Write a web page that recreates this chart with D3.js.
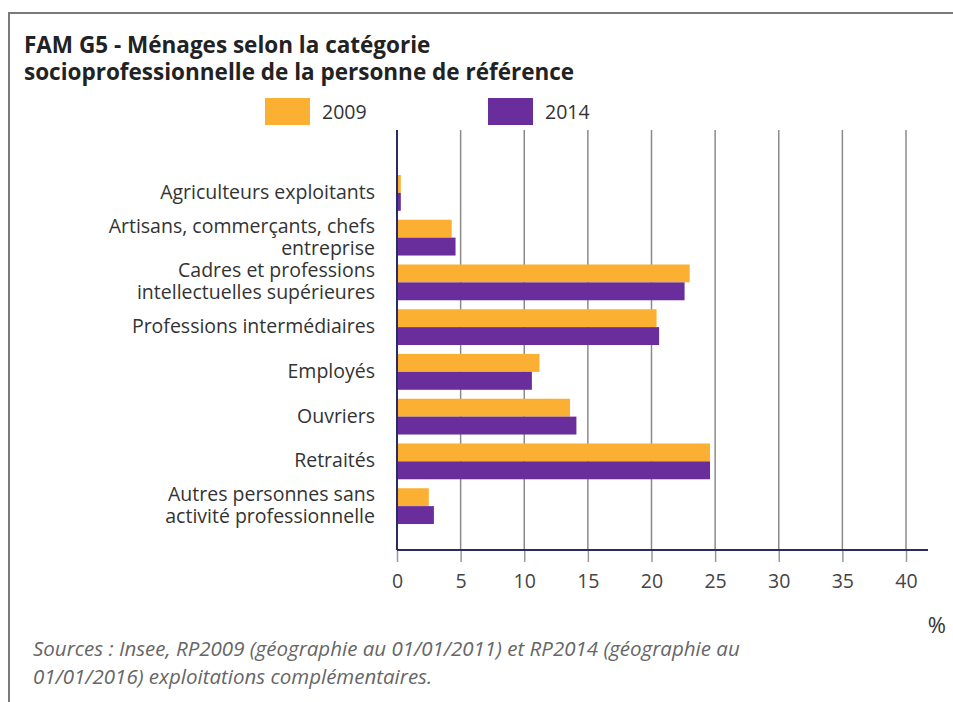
<!DOCTYPE html>
<html>
<head>
<meta charset="utf-8">
<script src="https://cdn.jsdelivr.net/npm/d3@7"></script>
<style>
  body { margin: 0; background: #fff; }
  svg text { font-family: "Open Sans", sans-serif; }
</style>
</head>
<body>
<svg id="chart" width="953" height="702"></svg>
<script>
// categories (label lines) and values in %
let categories = [
    ["Agriculteurs exploitants"],
    ["Artisans, commerçants, chefs", "entreprise"],
    ["Cadres et professions", "intellectuelles supérieures"],
    ["Professions intermédiaires"],
    ["Employés"],
    ["Ouvriers"],
    ["Retraités"],
    ["Autres personnes sans", "activité professionnelle"]
];
let series = ["2009", "2014"];
let values2009 = [0.3, 4.3, 23.0, 20.4, 11.2, 13.6, 24.6, 2.5];
let values2014 = [0.3, 4.6, 22.6, 20.6, 10.6, 14.1, 24.6, 2.9];
let xTicks = [0, 5, 10, 15, 20, 25, 30, 35, 40];
let colors = {"2009": "#fbb034", "2014": "#6a2e9c"};

let svg = d3.select("#chart");

// frame
svg.append("path")
    .attr("d", "M9,702 V13 H953")
    .attr("fill", "none")
    .attr("stroke", "#7a7a7a")
    .attr("stroke-width", 2);

// title
let title = svg.append("text")
    .attr("x", 24)
    .attr("y", 53)
    .attr("font-size", 22.5)
    .attr("font-weight", 700)
    .attr("fill", "#222");
title.append("tspan").attr("x", 24).text("FAM G5 - Ménages selon la catégorie");
title.append("tspan").attr("x", 24).attr("dy", 27).text("socioprofessionnelle de la personne de référence");

// legend
let legendX = {"2009": 265, "2014": 488};
series.forEach(s => {
    svg.append("rect")
        .attr("x", legendX[s]).attr("y", 98)
        .attr("width", 45).attr("height", 27)
        .attr("fill", colors[s]);
    svg.append("text")
        .attr("x", legendX[s] + 57).attr("y", 119)
        .attr("font-size", 19.5).attr("fill", "#333")
        .text(s);
});

// scales
let x = d3.scaleLinear().domain([0, 40]).range([397, 906]);
let y = d3.scaleBand()
    .domain(d3.range(categories.length))
    .range([170.5, 528.5])
    .paddingInner(0.2)
    .paddingOuter(0.1);
let ySub = d3.scaleBand().domain(series).range([0, y.bandwidth()]);

let gridTop = 130, axisY = 550;

// grid lines
svg.append("g").selectAll("line")
    .data(xTicks.slice(1))
    .enter().append("line")
    .attr("x1", d => x(d)).attr("x2", d => x(d))
    .attr("y1", gridTop).attr("y2", axisY)
    .attr("stroke", "#8a8a8a")
    .attr("stroke-width", 1.5);

// bars
let rows = categories.map((c, i) => ({i: i, "2009": values2009[i], "2014": values2014[i]}));
let groups = svg.append("g").selectAll("g")
    .data(rows)
    .enter().append("g")
    .attr("transform", d => "translate(0," + y(d.i) + ")");
groups.selectAll("rect")
    .data(d => series.map(s => ({s: s, v: d[s]})))
    .enter().append("rect")
    .attr("x", x(0))
    .attr("y", d => ySub(d.s))
    .attr("width", d => x(d.v) - x(0))
    .attr("height", ySub.bandwidth())
    .attr("fill", d => colors[d.s]);

// category labels
let labels = svg.append("g").selectAll("text")
    .data(categories)
    .enter().append("text")
    .attr("text-anchor", "end")
    .attr("font-size", 19.5)
    .attr("fill", "#333")
    .attr("y", (d, i) => y(i) + y.bandwidth() / 2 - (d.length - 1) * 11 + 6);
labels.selectAll("tspan")
    .data(d => d)
    .enter().append("tspan")
    .attr("x", 375)
    .attr("dy", (d, j) => j === 0 ? 0 : 22)
    .text(d => d);

// x axis
let xAxis = d3.axisBottom(x)
    .tickValues(xTicks)
    .tickSize(12)
    .tickPadding(12);
let gx = svg.append("g")
    .attr("transform", "translate(0," + axisY + ")")
    .call(xAxis);
gx.select(".domain").remove();
gx.selectAll(".tick line").attr("stroke", "#999").attr("stroke-width", 1.5);
gx.selectAll(".tick text")
    .attr("font-family", "Open Sans, sans-serif")
    .attr("font-size", 19.5)
    .attr("fill", "#444");

// axis lines
svg.append("line")
    .attr("x1", x(0)).attr("x2", 928)
    .attr("y1", axisY).attr("y2", axisY)
    .attr("stroke", "#2a2a66").attr("stroke-width", 2);
svg.append("line")
    .attr("x1", x(0)).attr("x2", x(0))
    .attr("y1", gridTop).attr("y2", axisY)
    .attr("stroke", "#2a2a66").attr("stroke-width", 2);

// unit
svg.append("text")
    .attr("x", 946).attr("y", 633)
    .attr("text-anchor", "end")
    .attr("font-size", 22).attr("fill", "#333")
    .text("%");

// source
let src = svg.append("text")
    .attr("x", 33).attr("y", 656)
    .attr("font-size", 20.5)
    .attr("font-style", "italic")
    .attr("fill", "#666");
src.append("tspan").attr("x", 33).text("Sources : Insee, RP2009 (géographie au 01/01/2011) et RP2014 (géographie au");
src.append("tspan").attr("x", 33).attr("dy", 28).text("01/01/2016) exploitations complémentaires.");
</script>
</body>
</html>
